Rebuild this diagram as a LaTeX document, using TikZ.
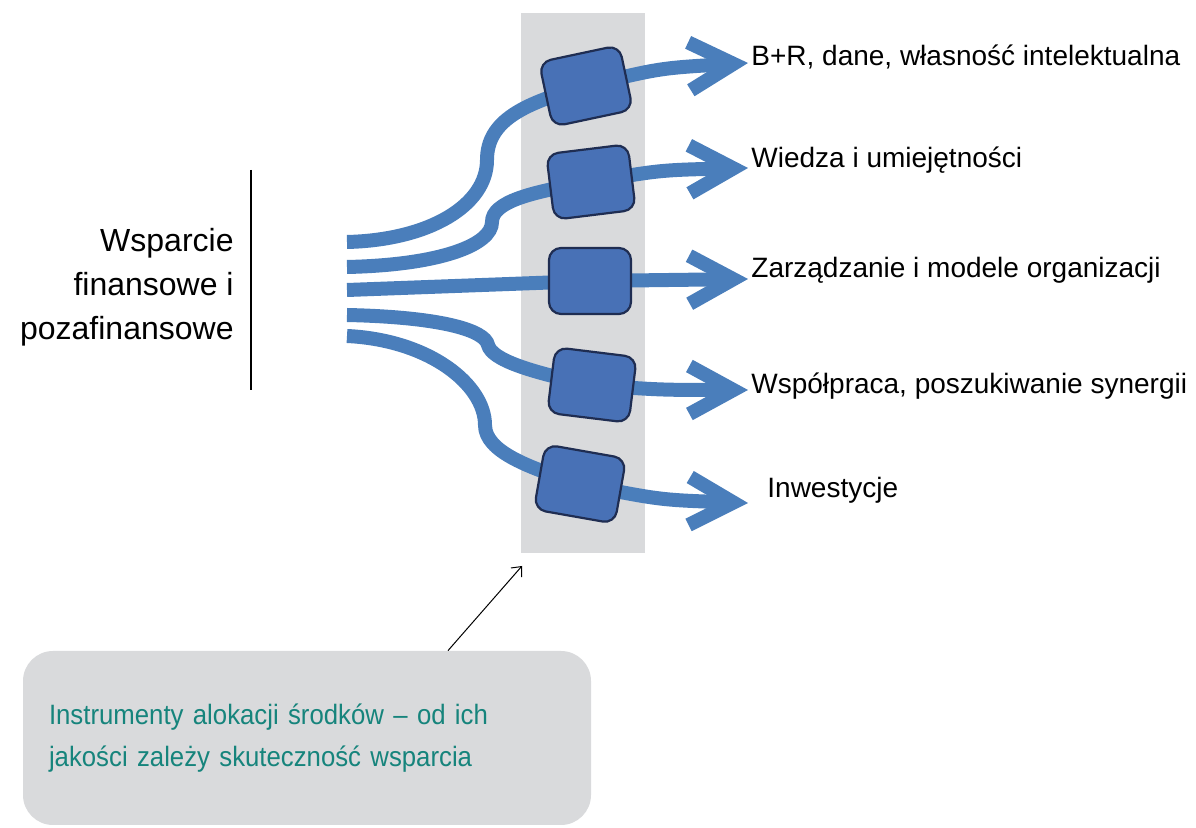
\documentclass[tikz,border=0pt]{standalone}
\usepackage{fontspec}
\setmainfont{Liberation Sans}
\newfontfamily\narrowfont[FakeStretch=0.92]{Liberation Sans}
\newcommand\notefont{\narrowfont\fontsize{14}{21}\selectfont\spaceskip=2.6pt\relax}
\usetikzlibrary{arrows.meta,backgrounds}
\definecolor{stream}{RGB}{74,126,187}
\definecolor{boxfill}{RGB}{72,113,182}
\definecolor{boxline}{RGB}{31,45,82}
\definecolor{band}{RGB}{217,218,220}
\definecolor{noteteal}{RGB}{22,132,124}

\begin{document}
\begin{tikzpicture}[x=0.5pt,y=-0.5pt,
    flow/.style={line width=7pt,color=stream},
    flowarrow/.style={flow,-{Straight Barb[length=22pt,width=24pt,sharp]}},
    instr/.style={draw=boxline,line width=1.1pt,fill=boxfill,rounded corners=6pt,
        minimum width=41pt,minimum height=33pt,inner sep=0pt},
    outlabel/.style={anchor=west,inner sep=0pt,font=\fontsize{14}{16}\selectfont}]
        \useasboundingbox (0,0) rectangle (1196,828);
        % instrumenty
        \node[instr,rotate=12] (b1) at (586,86) {};
        \node[instr,rotate=7] (b2) at (591,182) {};
        \node[instr] (b3) at (590,281) {};
        \node[instr,rotate=-7] (b4) at (592,385) {};
        \node[instr,rotate=-10] (b5) at (580,484) {};
        % poczatki i konce strumieni
        \coordinate (s1) at (347,242); \coordinate (t1) at (748,63);
        \coordinate (s2) at (347,267); \coordinate (t2) at (748,168);
        \coordinate (s3) at (347,290); \coordinate (t3) at (748,279);
        \coordinate (s4) at (347,315); \coordinate (t4) at (748,390);
        \coordinate (s5) at (347,336); \coordinate (t5) at (748,503);
        \begin{scope}[on background layer]
        \fill[band] (521,13) rectangle (645,553);
        \draw[flow] (s1) .. controls (430,240) and (487,205) .. (487,160)
            .. controls (487,120) and (525,103) .. (b1.center);
        \draw[flow] (s2) .. controls (440,265) and (492,245) .. (492,222)
            .. controls (492,202) and (530,192) .. (b2.center);
        \draw[flow] (s3) -- (b3.center);
        \draw[flow] (s4) .. controls (440,317) and (485,330) .. (488,345)
            .. controls (492,360) and (530,372) .. (b4.center);
        \draw[flow] (s5) .. controls (430,340) and (485,385) .. (485,425)
            .. controls (485,452) and (530,468) .. (b5.center);
        \draw[flowarrow] (b1.center) .. controls (660,68) .. (t1);
        \draw[flowarrow] (b2.center) .. controls (660,170) .. (t2);
        \draw[flowarrow] (b3.center) -- (t3);
        \draw[flowarrow] (b4.center) .. controls (660,390) .. (t4);
        \draw[flowarrow] (b5.center) .. controls (660,500) .. (t5);
        \end{scope}
        % opisy
        \node[outlabel] (l1) at (751,57) {B+R, dane, własność intelektualna};
        \node[outlabel] (l2) at (751,160) {Wiedza i umiejętności};
        \node[outlabel] (l3) at (751,270) {Zarządzanie i modele organizacji};
        \node[outlabel] (l4) at (751,386) {Współpraca, poszukiwanie synergii};
        \node[outlabel] (l5) at (767,490) {Inwestycje};
        \node[anchor=east,align=right,inner sep=0pt,
            font=\fontsize{16}{22}\selectfont] (src) at (234,287)
            {Wsparcie\\ finansowe i\\ pozafinansowe};
        \draw[line width=1.2pt] (251,170) -- (251,390);
        % ramka z komentarzem
        \node[fill=band,rounded corners=15pt,minimum width=284pt,minimum height=87pt,
            text width=258pt,align=left,inner sep=13pt,text=noteteal,
            font=\notefont] (note) at (307,738)
            {Instrumenty alokacji środków – od ich\\ jakości zależy skuteczność wsparcia};
        \coordinate (ptr) at (522,566);
        \draw[-{Straight Barb[length=4pt,width=7pt]},line width=0.5pt]
            ([xshift=70.5pt]note.north) -- (ptr);
\end{tikzpicture}
\end{document}
